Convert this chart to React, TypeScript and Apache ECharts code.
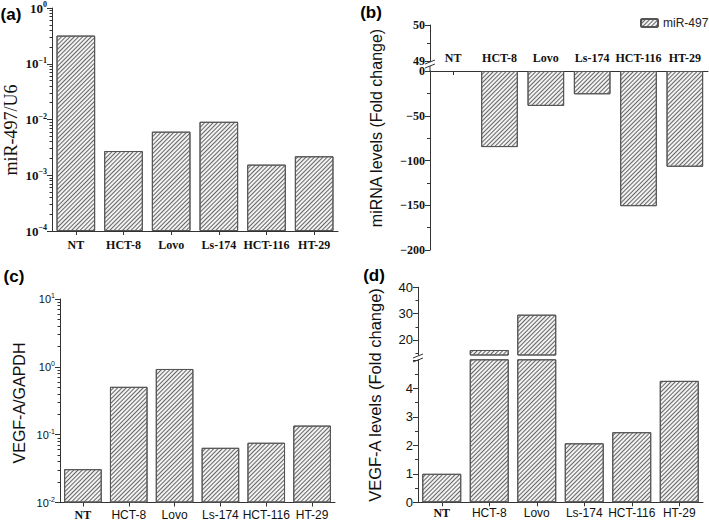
import React, { useEffect, useRef } from 'react';
import * as echarts from 'echarts';

// ---------- data ----------
const categories = ['NT', 'HCT-8', 'Lovo', 'Ls-174', 'HCT-116', 'HT-29'];
const mir497ToU6 = [0.32, 0.00272, 0.00605, 0.0091, 0.00155, 0.00219];
const mirnaFoldChange = [1, -85, -39, -26, -151, -107];
const vegfToGapdh = [0.031, 0.507, 0.93, 0.064, 0.076, 0.136];
const vegfFoldChange = [1.0, 16.2, 29.6, 2.07, 2.46, 4.26];

const aLogMin = -4;
const aLogMax = 0;
const cLogMin = -2;
const cLogMax = 1;
const bUpperRange = [49, 50];
const bLowerRange = [-200, 0];
const dUpperRange = [14.3, 40];
const dUpperLabels = [20, 30, 40];
const dUpperMinor = [15, 25, 35];
const dLowerRange = [0, 5];

const SERIF = '"Liberation Serif", "Times New Roman", serif';
const SANS = '"Liberation Sans", Arial, sans-serif';
const AX = '#333';
const TXT = '#111';

function logMinorTicks(min: number, max: number): number[] {
  const out: number[] = [];
  for (let n = min; n < max; n++) {
    for (let k = 2; k <= 9; k++) out.push(Math.log10(k) + n - min);
  }
  return out;
}

const hatch = {
  symbol: 'rect',
  symbolSize: 1,
  color: '#666666',
  dashArrayX: [1, 0],
  dashArrayY: [1, 1.7],
  rotation: -Math.PI / 4,
};

const barItem = {
  color: '#f2f2f2',
  borderColor: '#555',
  borderWidth: 1,
  decal: hatch,
};

const axisLine = { show: true, onZero: false, lineStyle: { color: AX, width: 1 } };

function catAxis(gridIndex: number, extra: any = {}) {
  return {
    type: 'category',
    gridIndex,
    data: categories,
    boundaryGap: true,
    axisLine,
    axisTick: { show: true, alignWithLabel: true, interval: 0, length: 4, lineStyle: { color: AX } },
    axisLabel: { show: true, interval: 0 },
    splitLine: { show: false },
    ...extra,
  };
}

const mixedXLabel = {
  interval: 0,
  margin: 6,
  color: TXT,
  formatter: (v: string) => (v === 'NT' ? `{nt|${v}}` : `{n|${v}}`),
  rich: {
    nt: { fontFamily: SERIF, fontWeight: 'bold', fontSize: 12, color: TXT },
    n: { fontFamily: SANS, fontSize: 12, color: TXT },
  },
};

export default function App() {
  const ref = useRef<HTMLDivElement>(null);

  useEffect(() => {
    document.body.style.margin = '0';
    if (!ref.current) return;
    const chart = echarts.init(ref.current, undefined, { renderer: 'svg' });

    const minorTickAxis = (gridIndex: number, min: number, max: number, values: number[]) => ({
      type: 'value',
      gridIndex,
      position: 'left',
      min,
      max,
      axisLine: { show: false },
      axisLabel: { show: false },
      splitLine: { show: false },
      axisTick: { show: true, length: 2.5, customValues: values, lineStyle: { color: AX } },
    });

    const option: any = {
      animation: false,
      backgroundColor: '#ffffff',
      grid: [
        { left: 52, top: 8, width: 286, height: 223, outerBoundsMode: 'none' },
        { left: 430, top: 25, width: 278, height: 36, outerBoundsMode: 'none' },
        { left: 430, top: 71, width: 278, height: 179, outerBoundsMode: 'none' },
        { left: 60, top: 299, width: 275, height: 203.5, outerBoundsMode: 'none' },
        { left: 418, top: 287.3, width: 285, height: 67.7, outerBoundsMode: 'none' },
        { left: 418, top: 359.8, width: 285, height: 142.5, outerBoundsMode: 'none' },
      ],
      legend: {
        data: ['miR-497'],
        left: 635,
        top: 12,
        itemWidth: 17,
        itemHeight: 8,
        itemGap: 4,
        textStyle: { fontFamily: SANS, fontSize: 12, color: '#222' },
        selectedMode: false,
      },
      xAxis: [
        catAxis(0, {
          axisLabel: {
            interval: 0,
            margin: 8,
            color: TXT,
            fontFamily: SERIF,
            fontWeight: 'bold',
            fontSize: 12,
          },
        }),
        catAxis(1, { show: false }),
        catAxis(2, {
          position: 'top',
          axisTick: { show: true, alignWithLabel: true, interval: 0, inside: true, length: 4, lineStyle: { color: AX } },
          axisLabel: {
            interval: 0,
            margin: 7,
            color: TXT,
            fontFamily: SERIF,
            fontWeight: 'bold',
            fontSize: 12,
          },
        }),
        catAxis(3, { axisLabel: mixedXLabel }),
        catAxis(4, { show: false }),
        catAxis(5, { axisLabel: { ...mixedXLabel, margin: 5 } }),
      ],
      yAxis: [
        // (a) log axis (log10 shifted)
        {
          type: 'value',
          gridIndex: 0,
          position: 'left',
          min: 0,
          max: aLogMax - aLogMin,
          interval: 1,
          axisLine,
          splitLine: { show: false },
          axisTick: { show: true, length: 5, lineStyle: { color: AX } },
          axisLabel: {
            margin: 5,
            color: TXT,
            formatter: (v: number) => {
              const e = Math.round(v + aLogMin);
              return `{b|10}{s|${e < 0 ? '\u2212' + -e : e}}`;
            },
            rich: {
              b: { fontFamily: SERIF, fontWeight: 'bold', fontSize: 13, lineHeight: 15, color: TXT },
              s: { fontFamily: SERIF, fontWeight: 'bold', fontSize: 8, lineHeight: 15, verticalAlign: 'top', color: TXT },
            },
          },
        },
        minorTickAxis(0, 0, aLogMax - aLogMin, logMinorTicks(aLogMin, aLogMax)),
        // (b) upper
        {
          type: 'value',
          gridIndex: 1,
          position: 'left',
          min: bUpperRange[0],
          max: bUpperRange[1],
          interval: 1,
          axisLine,
          splitLine: { show: false },
          axisTick: { show: true, length: 5, lineStyle: { color: AX } },
          minorTick: { show: true, splitNumber: 2, length: 3, lineStyle: { color: AX } },
          axisLabel: { margin: 5, color: TXT, fontFamily: SERIF, fontWeight: 'bold', fontSize: 12 },
        },
        // (b) lower
        {
          type: 'value',
          gridIndex: 2,
          position: 'left',
          min: bLowerRange[0],
          max: bLowerRange[1],
          interval: 50,
          axisLine,
          splitLine: { show: false },
          axisTick: { show: true, length: 5, lineStyle: { color: AX } },
          minorTick: { show: true, splitNumber: 2, length: 3, lineStyle: { color: AX } },
          axisLabel: {
            margin: 5,
            color: TXT,
            fontFamily: SERIF,
            fontWeight: 'bold',
            fontSize: 12,
            formatter: (v: number) => (v < 0 ? '\u2212' + -v : String(v)),
          },
        },
        // (c) log axis
        {
          type: 'value',
          gridIndex: 3,
          position: 'left',
          min: 0,
          max: cLogMax - cLogMin,
          interval: 1,
          axisLine,
          splitLine: { show: false },
          axisTick: { show: true, length: 5, lineStyle: { color: AX } },
          axisLabel: {
            margin: 5,
            color: TXT,
            formatter: (v: number) => {
              const e = Math.round(v + cLogMin);
              return `{b|10}{s|${e}}`;
            },
            rich: {
              b: { fontFamily: SANS, fontSize: 11, lineHeight: 14, color: TXT },
              s: { fontFamily: SANS, fontSize: 7, lineHeight: 14, verticalAlign: 'top', color: TXT },
            },
          },
        },
        minorTickAxis(3, 0, cLogMax - cLogMin, logMinorTicks(cLogMin, cLogMax)),
        // (d) upper
        {
          type: 'value',
          gridIndex: 4,
          position: 'left',
          min: dUpperRange[0],
          max: dUpperRange[1],
          axisLine,
          splitLine: { show: false },
          axisTick: { show: true, length: 5, customValues: dUpperLabels, lineStyle: { color: AX } },
          axisLabel: { margin: 5, color: TXT, fontFamily: SANS, fontSize: 13, customValues: dUpperLabels },
        },
        minorTickAxis(4, dUpperRange[0], dUpperRange[1], dUpperMinor),
        // (d) lower
        {
          type: 'value',
          gridIndex: 5,
          position: 'left',
          min: dLowerRange[0],
          max: dLowerRange[1],
          interval: 1,
          axisLine,
          splitLine: { show: false },
          axisTick: { show: true, length: 5, lineStyle: { color: AX } },
          minorTick: { show: true, splitNumber: 2, length: 3, lineStyle: { color: AX } },
          axisLabel: {
            margin: 5,
            color: TXT,
            fontFamily: SANS,
            fontSize: 13,
            formatter: (v: number) => (v >= dLowerRange[1] ? '' : String(v)),
          },
        },
      ],
      series: [
        {
          name: 'a',
          type: 'bar',
          xAxisIndex: 0,
          yAxisIndex: 0,
          barWidth: '81%',
          clip: true,
          itemStyle: barItem,
          data: mir497ToU6.map((v) => Math.log10(v) - aLogMin),
        },
        {
          name: 'miR-497',
          type: 'bar',
          xAxisIndex: 2,
          yAxisIndex: 3,
          barWidth: '79%',
          clip: true,
          itemStyle: barItem,
          data: mirnaFoldChange,
        },
        {
          name: 'c',
          type: 'bar',
          xAxisIndex: 3,
          yAxisIndex: 4,
          barWidth: '82%',
          clip: true,
          itemStyle: barItem,
          data: vegfToGapdh.map((v) => Math.log10(v) - cLogMin),
        },
        {
          name: 'd-upper',
          type: 'bar',
          xAxisIndex: 4,
          yAxisIndex: 6,
          barWidth: '82%',
          clip: true,
          itemStyle: barItem,
          data: vegfFoldChange,
        },
        {
          name: 'd-lower',
          type: 'bar',
          xAxisIndex: 5,
          yAxisIndex: 8,
          barWidth: '82%',
          clip: true,
          itemStyle: barItem,
          data: vegfFoldChange,
        },
      ],
      graphic: [
        // panel letters
        { type: 'text', x: 11, y: 14, style: { text: '(a)', font: `bold 17px ${SANS}`, fill: '#000', align: 'center', verticalAlign: 'middle' } },
        { type: 'text', x: 371, y: 12, style: { text: '(b)', font: `bold 17px ${SANS}`, fill: '#000', align: 'center', verticalAlign: 'middle' } },
        { type: 'text', x: 14, y: 276, style: { text: '(c)', font: `bold 17px ${SANS}`, fill: '#000', align: 'center', verticalAlign: 'middle' } },
        { type: 'text', x: 374, y: 275, style: { text: '(d)', font: `bold 17px ${SANS}`, fill: '#000', align: 'center', verticalAlign: 'middle' } },
        // axis titles
        { type: 'text', x: 11, y: 130, rotation: Math.PI / 2, style: { text: 'miR-497/U6', font: `18px ${SERIF}`, fill: TXT, align: 'center', verticalAlign: 'middle' } },
        { type: 'text', x: 376, y: 128, rotation: Math.PI / 2, style: { text: 'miRNA levels (Fold change)', font: `16px ${SANS}`, fill: TXT, align: 'center', verticalAlign: 'middle' } },
        { type: 'text', x: 19, y: 403, rotation: Math.PI / 2, style: { text: 'VEGF-A/GAPDH', font: `16px ${SANS}`, fill: TXT, align: 'center', verticalAlign: 'middle' } },
        { type: 'text', x: 375, y: 395, rotation: Math.PI / 2, style: { text: 'VEGF-A levels (Fold change)', font: `16.5px ${SANS}`, fill: TXT, align: 'center', verticalAlign: 'middle' } },
        // axis break marks (b)
        { type: 'line', shape: { x1: 425, y1: 64, x2: 435, y2: 60 }, style: { stroke: AX, lineWidth: 1 } },
        { type: 'line', shape: { x1: 425, y1: 68, x2: 435, y2: 64 }, style: { stroke: AX, lineWidth: 1 } },
        { type: 'line', shape: { x1: 430, y1: 61, x2: 430, y2: 62 }, style: { stroke: AX, lineWidth: 1 } },
        { type: 'line', shape: { x1: 430, y1: 66, x2: 430, y2: 71 }, style: { stroke: AX, lineWidth: 1 } },
        // axis break marks (d)
        { type: 'line', shape: { x1: 413, y1: 358, x2: 423, y2: 354 }, style: { stroke: AX, lineWidth: 1 } },
        { type: 'line', shape: { x1: 413, y1: 362, x2: 423, y2: 358 }, style: { stroke: AX, lineWidth: 1 } },
      ],
    };

    chart.setOption(option);
    return () => chart.dispose();
  }, []);

  return <div ref={ref} style={{ width: 709, height: 522, overflow: 'hidden' }} />;
}
